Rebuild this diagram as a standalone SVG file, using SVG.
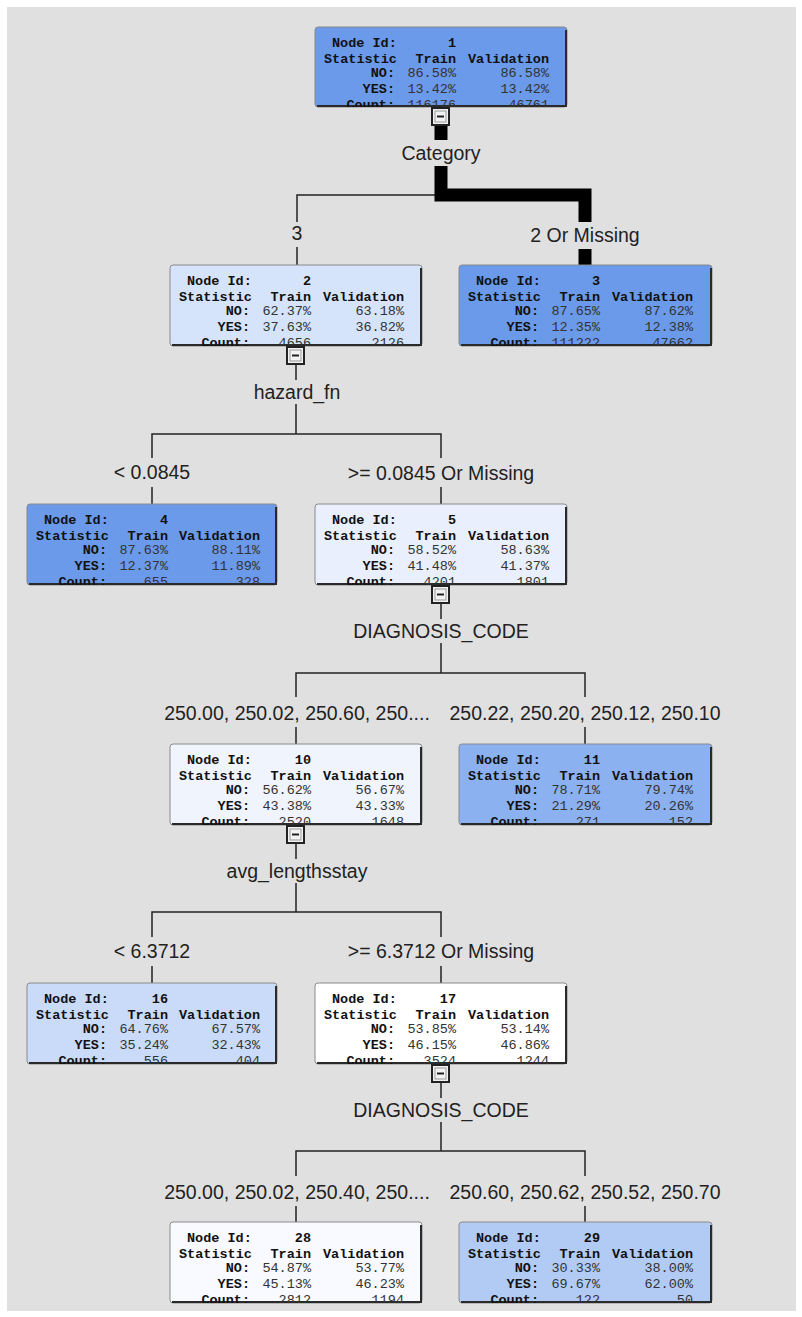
<svg xmlns="http://www.w3.org/2000/svg" width="802" height="1317" viewBox="0 0 802 1317">
<style>
.bg{fill:#e0e0e0}
.box{stroke:#8a8a8a;stroke-width:1}
.sh{fill:none;stroke:#2a2a2a;stroke-width:2}
.t{font-family:"Liberation Mono",monospace;font-size:13.5px;fill:#111}
.b{font-weight:bold}
.v{fill:#333}
.e{text-anchor:end}
.lbl{font-family:"Liberation Sans",Arial,sans-serif;font-size:19.5px;fill:#222;text-anchor:middle}
.ln{fill:none;stroke:#222;stroke-width:1.5}
.thick{fill:none;stroke:#000;stroke-width:13}
.btno{fill:#f2f2f2;stroke:#222;stroke-width:2}
.btni{fill:none;stroke:#999;stroke-width:1}
.minus{stroke:#222;stroke-width:2}
</style>
<defs>
<clipPath id="c1"><rect x="315" y="27" width="252" height="80"/></clipPath>
<clipPath id="c2"><rect x="170" y="265" width="252" height="81"/></clipPath>
<clipPath id="c3"><rect x="459" y="265" width="253" height="81"/></clipPath>
<clipPath id="c4"><rect x="27" y="504" width="250" height="81"/></clipPath>
<clipPath id="c5"><rect x="315" y="504" width="252" height="81"/></clipPath>
<clipPath id="c10"><rect x="170" y="744" width="252" height="81"/></clipPath>
<clipPath id="c11"><rect x="459" y="744" width="253" height="81"/></clipPath>
<clipPath id="c16"><rect x="27" y="983" width="250" height="81"/></clipPath>
<clipPath id="c17"><rect x="315" y="983" width="252" height="81"/></clipPath>
<clipPath id="c28"><rect x="170" y="1222" width="252" height="81"/></clipPath>
<clipPath id="c29"><rect x="459" y="1222" width="253" height="81"/></clipPath>
</defs>
<rect x="0" y="0" width="802" height="1317" fill="#ffffff"/>
<rect class="bg" x="7" y="7" width="789" height="1304"/>

<g id="connectors">
<line class="thick" x1="441" y1="125" x2="441" y2="140"/>
<path class="ln" d="M441,195 H297 V222"/>
<path class="thick" d="M441,166 V195 H585 V222"/>
<line class="ln" x1="297" y1="247" x2="297" y2="265"/>
<line class="thick" x1="585" y1="249" x2="585" y2="265"/>

<line class="ln" x1="296" y1="365" x2="296" y2="380"/>
<path class="ln" d="M296,404 V434 M152,458 V434 H441 V458"/>
<line class="ln" x1="152" y1="487" x2="152" y2="504"/>
<line class="ln" x1="441" y1="487" x2="441" y2="504"/>

<line class="ln" x1="441" y1="603" x2="441" y2="619"/>
<path class="ln" d="M441,643 V673 M296,697 V673 H585 V697"/>
<line class="ln" x1="296" y1="727" x2="296" y2="744"/>
<line class="ln" x1="585" y1="727" x2="585" y2="744"/>

<line class="ln" x1="296" y1="843" x2="296" y2="859"/>
<path class="ln" d="M296,883 V912 M152,937 V912 H441 V937"/>
<line class="ln" x1="152" y1="966" x2="152" y2="983"/>
<line class="ln" x1="441" y1="966" x2="441" y2="983"/>

<line class="ln" x1="441" y1="1082" x2="441" y2="1098"/>
<path class="ln" d="M441,1122 V1151 M296,1176 V1151 H585 V1176"/>
<line class="ln" x1="296" y1="1206" x2="296" y2="1222"/>
<line class="ln" x1="585" y1="1206" x2="585" y2="1222"/>

<text class="lbl" x="441" y="160">Category</text>
<text class="lbl" x="297" y="240">3</text>
<text class="lbl" x="585" y="242">2 Or Missing</text>
<text class="lbl" x="297" y="399">hazard_fn</text>
<text class="lbl" x="152" y="479">&lt; 0.0845</text>
<text class="lbl" x="441" y="480">&gt;= 0.0845 Or Missing</text>
<text class="lbl" x="441" y="638">DIAGNOSIS_CODE</text>
<text class="lbl" x="297" y="720">250.00, 250.02, 250.60, 250....</text>
<text class="lbl" x="585" y="720">250.22, 250.20, 250.12, 250.10</text>
<text class="lbl" x="297" y="878">avg_lengthsstay</text>
<text class="lbl" x="152" y="958">&lt; 6.3712</text>
<text class="lbl" x="441" y="958">&gt;= 6.3712 Or Missing</text>
<text class="lbl" x="441" y="1117">DIAGNOSIS_CODE</text>
<text class="lbl" x="297" y="1199">250.00, 250.02, 250.40, 250....</text>
<text class="lbl" x="585" y="1199">250.60, 250.62, 250.52, 250.70</text>
</g>

<g id="node1">
<rect class="box" x="315" y="27" width="252" height="80" rx="3" fill="#6a9ae9"/>
<path class="sh" d="M566,30 V106 H317"/>
<g clip-path="url(#c1)">
<text class="t b" x="332" y="47">Node Id:</text><text class="t b e" x="456" y="47">1</text>
<text class="t b" x="324" y="63">Statistic</text><text class="t b e" x="456" y="63">Train</text><text class="t b e" x="549" y="63">Validation</text>
<text class="t b e" x="395" y="77">NO:</text><text class="t v e" x="456" y="77">86.58%</text><text class="t v e" x="549" y="77">86.58%</text>
<text class="t b e" x="395" y="93">YES:</text><text class="t v e" x="456" y="93">13.42%</text><text class="t v e" x="549" y="93">13.42%</text>
<text class="t b e" x="395" y="109">Count:</text><text class="t v e" x="456" y="109">116176</text><text class="t v e" x="549" y="109">46761</text>
</g>
<rect class="btno" x="432" y="108" width="17" height="17"/><rect class="btni" x="435" y="111" width="11" height="11"/><line class="minus" x1="437" y1="116.5" x2="444" y2="116.5"/>
</g>

<g id="node2">
<rect class="box" x="170" y="265" width="252" height="81" rx="3" fill="#d6e4fb"/>
<path class="sh" d="M421,268 V345 H172"/>
<g clip-path="url(#c2)">
<text class="t b" x="187" y="285">Node Id:</text><text class="t b e" x="311" y="285">2</text>
<text class="t b" x="179" y="301">Statistic</text><text class="t b e" x="311" y="301">Train</text><text class="t b e" x="404" y="301">Validation</text>
<text class="t b e" x="250" y="315">NO:</text><text class="t v e" x="311" y="315">62.37%</text><text class="t v e" x="404" y="315">63.18%</text>
<text class="t b e" x="250" y="331">YES:</text><text class="t v e" x="311" y="331">37.63%</text><text class="t v e" x="404" y="331">36.82%</text>
<text class="t b e" x="250" y="347">Count:</text><text class="t v e" x="311" y="347">4656</text><text class="t v e" x="404" y="347">2126</text>
</g>
<rect class="btno" x="287" y="347" width="17" height="17"/><rect class="btni" x="290" y="350" width="11" height="11"/><line class="minus" x1="292" y1="355.5" x2="299" y2="355.5"/>
</g>

<g id="node3">
<rect class="box" x="459" y="265" width="253" height="81" rx="3" fill="#6a9ae9"/>
<path class="sh" d="M711,268 V345 H461"/>
<g clip-path="url(#c3)">
<text class="t b" x="476" y="285">Node Id:</text><text class="t b e" x="600" y="285">3</text>
<text class="t b" x="468" y="301">Statistic</text><text class="t b e" x="600" y="301">Train</text><text class="t b e" x="693" y="301">Validation</text>
<text class="t b e" x="539" y="315">NO:</text><text class="t v e" x="600" y="315">87.65%</text><text class="t v e" x="693" y="315">87.62%</text>
<text class="t b e" x="539" y="331">YES:</text><text class="t v e" x="600" y="331">12.35%</text><text class="t v e" x="693" y="331">12.38%</text>
<text class="t b e" x="539" y="347">Count:</text><text class="t v e" x="600" y="347">111222</text><text class="t v e" x="693" y="347">47662</text>
</g>
</g>

<g id="node4">
<rect class="box" x="27" y="504" width="250" height="81" rx="3" fill="#6a9ae9"/>
<path class="sh" d="M276,507 V584 H29"/>
<g clip-path="url(#c4)">
<text class="t b" x="44" y="524">Node Id:</text><text class="t b e" x="168" y="524">4</text>
<text class="t b" x="36" y="540">Statistic</text><text class="t b e" x="168" y="540">Train</text><text class="t b e" x="260" y="540">Validation</text>
<text class="t b e" x="107" y="554">NO:</text><text class="t v e" x="168" y="554">87.63%</text><text class="t v e" x="260" y="554">88.11%</text>
<text class="t b e" x="107" y="570">YES:</text><text class="t v e" x="168" y="570">12.37%</text><text class="t v e" x="260" y="570">11.89%</text>
<text class="t b e" x="107" y="586">Count:</text><text class="t v e" x="168" y="586">655</text><text class="t v e" x="260" y="586">328</text>
</g>
</g>

<g id="node5">
<rect class="box" x="315" y="504" width="252" height="81" rx="3" fill="#e9effc"/>
<path class="sh" d="M566,507 V584 H317"/>
<g clip-path="url(#c5)">
<text class="t b" x="332" y="524">Node Id:</text><text class="t b e" x="456" y="524">5</text>
<text class="t b" x="324" y="540">Statistic</text><text class="t b e" x="456" y="540">Train</text><text class="t b e" x="549" y="540">Validation</text>
<text class="t b e" x="395" y="554">NO:</text><text class="t v e" x="456" y="554">58.52%</text><text class="t v e" x="549" y="554">58.63%</text>
<text class="t b e" x="395" y="570">YES:</text><text class="t v e" x="456" y="570">41.48%</text><text class="t v e" x="549" y="570">41.37%</text>
<text class="t b e" x="395" y="586">Count:</text><text class="t v e" x="456" y="586">4201</text><text class="t v e" x="549" y="586">1801</text>
</g>
<rect class="btno" x="432" y="586" width="17" height="17"/><rect class="btni" x="435" y="589" width="11" height="11"/><line class="minus" x1="437" y1="594.5" x2="444" y2="594.5"/>
</g>

<g id="node10">
<rect class="box" x="170" y="744" width="252" height="81" rx="3" fill="#f0f4fd"/>
<path class="sh" d="M421,747 V824 H172"/>
<g clip-path="url(#c10)">
<text class="t b" x="187" y="764">Node Id:</text><text class="t b e" x="311" y="764">10</text>
<text class="t b" x="179" y="780">Statistic</text><text class="t b e" x="311" y="780">Train</text><text class="t b e" x="404" y="780">Validation</text>
<text class="t b e" x="250" y="794">NO:</text><text class="t v e" x="311" y="794">56.62%</text><text class="t v e" x="404" y="794">56.67%</text>
<text class="t b e" x="250" y="810">YES:</text><text class="t v e" x="311" y="810">43.38%</text><text class="t v e" x="404" y="810">43.33%</text>
<text class="t b e" x="250" y="826">Count:</text><text class="t v e" x="311" y="826">2520</text><text class="t v e" x="404" y="826">1648</text>
</g>
<rect class="btno" x="287" y="826" width="17" height="17"/><rect class="btni" x="290" y="829" width="11" height="11"/><line class="minus" x1="292" y1="834.5" x2="299" y2="834.5"/>
</g>

<g id="node11">
<rect class="box" x="459" y="744" width="253" height="81" rx="3" fill="#8cb1f0"/>
<path class="sh" d="M711,747 V824 H461"/>
<g clip-path="url(#c11)">
<text class="t b" x="476" y="764">Node Id:</text><text class="t b e" x="600" y="764">11</text>
<text class="t b" x="468" y="780">Statistic</text><text class="t b e" x="600" y="780">Train</text><text class="t b e" x="693" y="780">Validation</text>
<text class="t b e" x="539" y="794">NO:</text><text class="t v e" x="600" y="794">78.71%</text><text class="t v e" x="693" y="794">79.74%</text>
<text class="t b e" x="539" y="810">YES:</text><text class="t v e" x="600" y="810">21.29%</text><text class="t v e" x="693" y="810">20.26%</text>
<text class="t b e" x="539" y="826">Count:</text><text class="t v e" x="600" y="826">271</text><text class="t v e" x="693" y="826">152</text>
</g>
</g>

<g id="node16">
<rect class="box" x="27" y="983" width="250" height="81" rx="3" fill="#c9dbf8"/>
<path class="sh" d="M276,986 V1063 H29"/>
<g clip-path="url(#c16)">
<text class="t b" x="44" y="1003">Node Id:</text><text class="t b e" x="168" y="1003">16</text>
<text class="t b" x="36" y="1019">Statistic</text><text class="t b e" x="168" y="1019">Train</text><text class="t b e" x="260" y="1019">Validation</text>
<text class="t b e" x="107" y="1033">NO:</text><text class="t v e" x="168" y="1033">64.76%</text><text class="t v e" x="260" y="1033">67.57%</text>
<text class="t b e" x="107" y="1049">YES:</text><text class="t v e" x="168" y="1049">35.24%</text><text class="t v e" x="260" y="1049">32.43%</text>
<text class="t b e" x="107" y="1065">Count:</text><text class="t v e" x="168" y="1065">556</text><text class="t v e" x="260" y="1065">404</text>
</g>
</g>

<g id="node17">
<rect class="box" x="315" y="983" width="252" height="81" rx="3" fill="#ffffff"/>
<path class="sh" d="M566,986 V1063 H317"/>
<g clip-path="url(#c17)">
<text class="t b" x="332" y="1003">Node Id:</text><text class="t b e" x="456" y="1003">17</text>
<text class="t b" x="324" y="1019">Statistic</text><text class="t b e" x="456" y="1019">Train</text><text class="t b e" x="549" y="1019">Validation</text>
<text class="t b e" x="395" y="1033">NO:</text><text class="t v e" x="456" y="1033">53.85%</text><text class="t v e" x="549" y="1033">53.14%</text>
<text class="t b e" x="395" y="1049">YES:</text><text class="t v e" x="456" y="1049">46.15%</text><text class="t v e" x="549" y="1049">46.86%</text>
<text class="t b e" x="395" y="1065">Count:</text><text class="t v e" x="456" y="1065">3524</text><text class="t v e" x="549" y="1065">1244</text>
</g>
<rect class="btno" x="432" y="1065" width="17" height="17"/><rect class="btni" x="435" y="1068" width="11" height="11"/><line class="minus" x1="437" y1="1073.5" x2="444" y2="1073.5"/>
</g>

<g id="node28">
<rect class="box" x="170" y="1222" width="252" height="81" rx="3" fill="#f8faff"/>
<path class="sh" d="M421,1225 V1302 H172"/>
<g clip-path="url(#c28)">
<text class="t b" x="187" y="1242">Node Id:</text><text class="t b e" x="311" y="1242">28</text>
<text class="t b" x="179" y="1258">Statistic</text><text class="t b e" x="311" y="1258">Train</text><text class="t b e" x="404" y="1258">Validation</text>
<text class="t b e" x="250" y="1272">NO:</text><text class="t v e" x="311" y="1272">54.87%</text><text class="t v e" x="404" y="1272">53.77%</text>
<text class="t b e" x="250" y="1288">YES:</text><text class="t v e" x="311" y="1288">45.13%</text><text class="t v e" x="404" y="1288">46.23%</text>
<text class="t b e" x="250" y="1304">Count:</text><text class="t v e" x="311" y="1304">2812</text><text class="t v e" x="404" y="1304">1194</text>
</g>
</g>

<g id="node29">
<rect class="box" x="459" y="1222" width="253" height="81" rx="3" fill="#b2cbf5"/>
<path class="sh" d="M711,1225 V1302 H461"/>
<g clip-path="url(#c29)">
<text class="t b" x="476" y="1242">Node Id:</text><text class="t b e" x="600" y="1242">29</text>
<text class="t b" x="468" y="1258">Statistic</text><text class="t b e" x="600" y="1258">Train</text><text class="t b e" x="693" y="1258">Validation</text>
<text class="t b e" x="539" y="1272">NO:</text><text class="t v e" x="600" y="1272">30.33%</text><text class="t v e" x="693" y="1272">38.00%</text>
<text class="t b e" x="539" y="1288">YES:</text><text class="t v e" x="600" y="1288">69.67%</text><text class="t v e" x="693" y="1288">62.00%</text>
<text class="t b e" x="539" y="1304">Count:</text><text class="t v e" x="600" y="1304">122</text><text class="t v e" x="693" y="1304">50</text>
</g>
</g>
</svg>
